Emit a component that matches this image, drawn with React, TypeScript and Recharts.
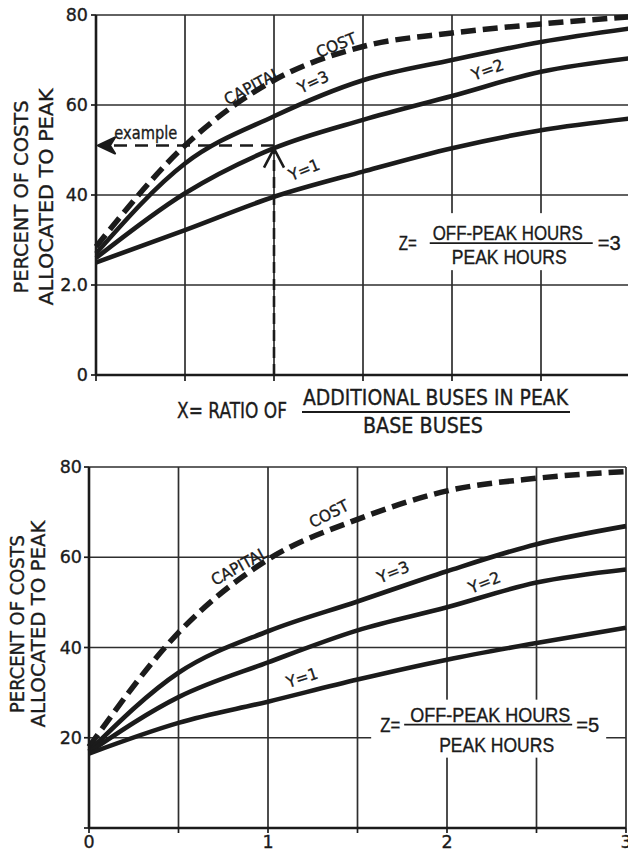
import React from "react";
import {
  LineChart,
  Line,
  XAxis,
  YAxis,
  CartesianGrid,
  ReferenceLine,
  ReferenceDot,
} from "recharts";

// ---- data ----
const xValues = [0, 0.5, 1, 1.5, 2, 2.5, 3];
const xTicks = [0, 0.5, 1, 1.5, 2, 2.5, 3];
const yTicks = [0, 20, 40, 60, 80];

// Z = 3 (top panel)
const topCapital = [28.5, 51, 65.5, 73, 76, 78, 79.6];
const topY3 = [27, 47, 57.5, 65.5, 70, 74, 77];
const topY2 = [26, 40.4, 50.4, 56.7, 62, 67.4, 70.4];
const topY1 = [25, 32.2, 39.6, 45.2, 50.4, 54.4, 57];

// Z = 5 (bottom panel)
const botCapital = [18, 43.3, 59.5, 68.4, 74.7, 77.5, 79];
const botY3 = [17, 34.4, 43.6, 50.2, 56.9, 62.9, 66.9];
const botY2 = [16.8, 29, 36.7, 43.8, 48.9, 54.4, 57.3];
const botY1 = [16.5, 23.3, 28, 32.9, 37.3, 41, 44.4];

// example reading on the top panel
const exampleX = 1;
const exampleY = 51;

const topData = xValues.map((x, i) => ({
  x,
  capital: topCapital[i],
  y3: topY3[i],
  y2: topY2[i],
  y1: topY1[i],
}));
const botData = xValues.map((x, i) => ({
  x,
  capital: botCapital[i],
  y3: botY3[i],
  y2: botY2[i],
  y1: botY1[i],
}));

const INK = "#1b1b1b";
const GRID = "#2e2e2e";
const FONT = "'DejaVu Sans', 'Liberation Sans', sans-serif";
const NARROW = "'Liberation Sans', Arial, sans-serif";
const HEAVY = { stroke: INK, strokeWidth: 0.35 };

// ---- annotation helpers ----
const rotatedText = (txt: string, angle: number, size = 16, len?: number) => (p: any) => (
  <text
    x={p.cx}
    y={p.cy}
    textAnchor="middle"
    dominantBaseline="central"
    transform={`rotate(${angle}, ${p.cx}, ${p.cy})`}
    fontFamily={FONT}
    fontSize={size}
    fill={INK}
    {...HEAVY}
    textLength={len}
    lengthAdjust={len ? "spacingAndGlyphs" : undefined}
  >
    {txt}
  </text>
);

const zFormula = (z: string, top: boolean) => (p: any) => {
  const cx = p.cx;
  const cy = p.cy;
  const g = top
    ? {
        rx: -116, ry: -30, rw: 230, rh: 57,
        zx: -112, zl: 18, numC: -3, numL: 150, numB: -3,
        l1: -81, l2: 82, denC: -1.5, denL: 115, denB: 21, eqx: 87, eql: 23,
      }
    : {
        rx: -117, ry: -25, rw: 235, rh: 58,
        zx: -108, zl: 20, numC: 2, numL: 160, numB: -3,
        l1: -84, l2: 84, denC: 8.5, denL: 115, denB: 27, eqx: 88, eql: 23,
      };
  const fs = 19.5;
  return (
    <g fontFamily={NARROW} fill={INK} fontSize={fs} {...HEAVY}>
      <rect x={cx + g.rx} y={cy + g.ry} width={g.rw} height={g.rh} fill="#ffffff" stroke="none" />
      <text x={cx + g.zx} y={cy + 7} textLength={g.zl} lengthAdjust="spacingAndGlyphs">
        Z=
      </text>
      <text x={cx + g.numC} y={cy + g.numB} textAnchor="middle" textLength={g.numL} lengthAdjust="spacingAndGlyphs">
        OFF-PEAK HOURS
      </text>
      <line x1={cx + g.l1} x2={cx + g.l2} y1={cy} y2={cy} stroke={INK} strokeWidth={1.8} />
      <text x={cx + g.denC} y={cy + g.denB} textAnchor="middle" textLength={g.denL} lengthAdjust="spacingAndGlyphs">
        PEAK HOURS
      </text>
      <text x={cx + g.eqx} y={cy + 7} textLength={g.eql} lengthAdjust="spacingAndGlyphs">
        {"=" + z}
      </text>
    </g>
  );
};

const upArrow = (p: any) => (
  <path
    d={`M ${p.cx - 10} ${p.cy + 19} L ${p.cx} ${p.cy} L ${p.cx + 10} ${p.cy + 19}`}
    fill="none"
    stroke={INK}
    strokeWidth={2.6}
  />
);
const leftArrow = (p: any) => (
  <path
    d={`M ${p.cx + 2} ${p.cy} L ${p.cx + 19} ${p.cy - 8} L ${p.cx + 14} ${p.cy} L ${p.cx + 19} ${p.cy + 8} Z`}
    fill={INK}
    stroke={INK}
    strokeWidth={2.2}
    strokeLinejoin="round"
  />
);
const exampleText = (p: any) => (
  <text
    x={p.cx}
    y={p.cy}
    textAnchor="middle"
    fontFamily={FONT}
    fontSize={17}
    fill={INK}
    {...HEAVY}
    textLength={63}
    lengthAdjust="spacingAndGlyphs"
  >
    example
  </text>
);

// ---- axis titles ----
const YTitle = ({ c1, c2, cy, l1, l2 }: any) => (
  <g fontFamily={FONT} fontSize={20} fill={INK} {...HEAVY}>
    <text
      x={c1}
      y={cy}
      textAnchor="middle"
      dominantBaseline="central"
      transform={`rotate(-90, ${c1}, ${cy})`}
      textLength={l1}
      lengthAdjust="spacingAndGlyphs"
    >
      PERCENT OF COSTS
    </text>
    <text
      x={c2}
      y={cy}
      textAnchor="middle"
      dominantBaseline="central"
      transform={`rotate(-90, ${c2}, ${cy})`}
      textLength={l2}
      lengthAdjust="spacingAndGlyphs"
    >
      ALLOCATED TO PEAK
    </text>
  </g>
);

const XTitle = () => (
  <g fontFamily={FONT} fontSize={20.5} fill={INK} {...HEAVY}>
    <text x={177} y={418} textLength={110} lengthAdjust="spacingAndGlyphs">
      X= RATIO OF
    </text>
    <text x={435.5} y={405} textAnchor="middle" textLength={265} lengthAdjust="spacingAndGlyphs">
      ADDITIONAL  BUSES IN PEAK
    </text>
    <line x1={302} x2={570} y1={412} y2={412} stroke={INK} strokeWidth={1.8} />
    <text x={423} y={433} textAnchor="middle" textLength={120} lengthAdjust="spacingAndGlyphs">
      BASE  BUSES
    </text>
  </g>
);

const tickStyle = { fontFamily: FONT, fontSize: 17.5, fill: INK, ...HEAVY };

export default function App() {
  const lines = (prefix: string) => [
    <Line key={prefix + "c"} type="monotone" dataKey="capital" stroke={INK} strokeWidth={5.5} strokeDasharray="15 7" dot={false} activeDot={false} isAnimationActive={false} />,
    <Line key={prefix + "3"} type="monotone" dataKey="y3" stroke={INK} strokeWidth={4.6} dot={false} activeDot={false} isAnimationActive={false} />,
    <Line key={prefix + "2"} type="monotone" dataKey="y2" stroke={INK} strokeWidth={4.6} dot={false} activeDot={false} isAnimationActive={false} />,
    <Line key={prefix + "1"} type="monotone" dataKey="y1" stroke={INK} strokeWidth={4.6} dot={false} activeDot={false} isAnimationActive={false} />,
  ];

  return (
    <div
      style={{
        position: "absolute",
        left: 0,
        top: 0,
        width: 628,
        height: 854,
        overflow: "hidden",
        background: "#ffffff",
      }}
    >
      {/* Top panel: Z = 3 */}
      <div style={{ position: "absolute", left: 0, top: 0 }}>
        <LineChart width={632} height={440} data={topData} margin={{ top: 15, right: 2, bottom: 0, left: 0 }}>
          <CartesianGrid stroke={GRID} strokeWidth={1.7} horizontalValues={yTicks} verticalValues={xTicks} />
          <XAxis
            dataKey="x"
            type="number"
            domain={[0, 3]}
            ticks={xTicks}
            interval={0}
            height={65}
            tickFormatter={() => ""}
            tickSize={6}
            axisLine={{ stroke: INK, strokeWidth: 2.6 }}
            tickLine={{ stroke: INK, strokeWidth: 1.7 }}
            label={<XTitle />}
          />
          <YAxis
            type="number"
            domain={[0, 80]}
            ticks={yTicks}
            interval={0}
            width={96}
            tickSize={5}
            tickMargin={3}
            tick={tickStyle}
            tickFormatter={(v: number) => (v === 20 ? "2.0" : String(v))}
            axisLine={{ stroke: INK, strokeWidth: 2.6 }}
            tickLine={{ stroke: INK, strokeWidth: 1.7 }}
            label={<YTitle c1={21} c2={46} cy={197} l1={193} l2={217} />}
          />
          {lines("t")}
          <ReferenceLine
            segment={[{ x: exampleX, y: 0 }, { x: exampleX, y: 50.3 }]}
            stroke={INK}
            strokeWidth={2.6}
            strokeDasharray="11 6"
            ifOverflow="visible"
          />
          <ReferenceLine
            segment={[{ x: exampleX, y: exampleY }, { x: 0.03, y: exampleY }]}
            stroke={INK}
            strokeWidth={2.6}
            strokeDasharray="13 8"
            ifOverflow="visible"
          />
          <ReferenceDot x={exampleX} y={50.3} r={0} ifOverflow="visible" shape={upArrow} />
          <ReferenceDot x={0} y={exampleY} r={0} ifOverflow="visible" shape={leftArrow} />
          <ReferenceDot x={0.28} y={52.5} r={0} ifOverflow="visible" shape={exampleText} />
          <ReferenceDot x={0.88} y={64.2} r={0} ifOverflow="visible" shape={rotatedText("CAPITAL", -28, 16, 62)} />
          <ReferenceDot x={1.35} y={73.3} r={0} ifOverflow="visible" shape={rotatedText("COST", -22, 16, 42)} />
          <ReferenceDot x={1.22} y={65.1} r={0} ifOverflow="visible" shape={rotatedText("Y=3", -25, 16, 32)} />
          <ReferenceDot x={2.2} y={67.8} r={0} ifOverflow="visible" shape={rotatedText("Y=2", -20, 16, 33)} />
          <ReferenceDot x={1.17} y={45.6} r={0} ifOverflow="visible" shape={rotatedText("Y=1", -22, 16, 32)} />
          <ReferenceDot x={2.33} y={29.3} r={0} ifOverflow="visible" shape={zFormula("3", true)} />
        </LineChart>
      </div>

      {/* Bottom panel: Z = 5 */}
      <div style={{ position: "absolute", left: 0, top: 440 }}>
        <LineChart width={628} height={414} data={botData} margin={{ top: 27, right: 2, bottom: 0, left: 0 }}>
          <CartesianGrid stroke={GRID} strokeWidth={1.7} horizontalValues={yTicks} verticalValues={xTicks} />
          <XAxis
            dataKey="x"
            type="number"
            domain={[0, 3]}
            ticks={xTicks}
            interval={0}
            height={26}
            tickSize={5}
            tickMargin={3}
            tick={tickStyle}
            tickFormatter={(v: number) => (Number.isInteger(v) ? String(v) : "")}
            axisLine={{ stroke: INK, strokeWidth: 2.6 }}
            tickLine={{ stroke: INK, strokeWidth: 1.7 }}
          />
          <YAxis
            type="number"
            domain={[0, 80]}
            ticks={yTicks}
            interval={0}
            width={89}
            tickSize={5}
            tickMargin={2}
            tick={tickStyle}
            tickFormatter={(v: number) => (v === 0 ? "" : String(v))}
            axisLine={{ stroke: INK, strokeWidth: 2.6 }}
            tickLine={{ stroke: INK, strokeWidth: 1.7 }}
            label={<YTitle c1={17} c2={38} cy={184} l1={178} l2={207} />}
          />
          {lines("b")}
          <ReferenceDot x={0.84} y={58} r={0} ifOverflow="visible" shape={rotatedText("CAPITAL", -29, 16, 62)} />
          <ReferenceDot x={1.34} y={69.6} r={0} ifOverflow="visible" shape={rotatedText("COST", -27, 16, 42)} />
          <ReferenceDot x={1.7} y={56.7} r={0} ifOverflow="visible" shape={rotatedText("Y=3", -22, 16, 33)} />
          <ReferenceDot x={2.21} y={54.4} r={0} ifOverflow="visible" shape={rotatedText("Y=2", -22, 16, 33)} />
          <ReferenceDot x={1.19} y={33.3} r={0} ifOverflow="visible" shape={rotatedText("Y=1", -18, 16, 32)} />
          <ReferenceDot x={2.23} y={22.9} r={0} ifOverflow="visible" shape={zFormula("5", false)} />
        </LineChart>
      </div>
    </div>
  );
}
